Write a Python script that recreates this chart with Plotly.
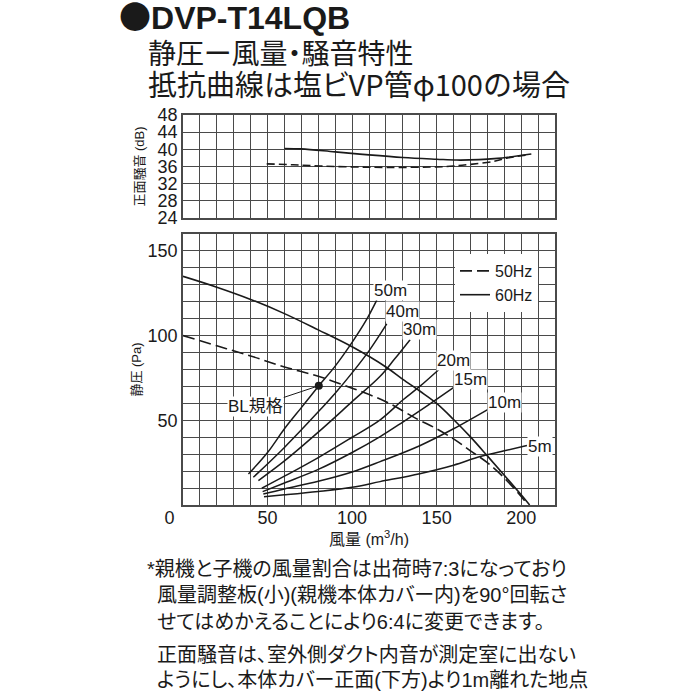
import plotly.graph_objects as go

# ---------------- data ----------------
# Noise (top chart): airflow m3/h vs dB
noise60_x = [60, 70, 90, 110, 130, 150, 162, 175, 186, 192, 206]
noise60_y = [40.2, 40.1, 39.4, 38.7, 38.1, 37.7, 37.5, 37.6, 37.9, 38.15, 38.9]
noise50_x = [49.5, 65, 81, 100, 120, 150, 160, 170, 184, 192, 204]
noise50_y = [36.6, 36.4, 36.1, 35.9, 35.8, 35.9, 36.1, 36.5, 37.2, 38.0, 38.7]

# Static pressure (bottom chart)
p60_x = [0, 20, 40, 60, 80, 100, 120, 130, 140, 150, 160, 170, 180, 190, 200, 205]
p60_y = [135, 128.6, 121.4, 113, 103.4, 93.4, 81.5, 74.2, 67.3, 60, 50.5, 40.2, 29, 17.6, 6, 0]
p50_x = [0, 20, 40, 60, 80, 100, 120, 138, 150, 160, 170, 180, 190, 200, 204]
p50_y = [100, 94, 88, 81.5, 76, 69, 61, 51, 45, 39, 32, 25, 16, 5, 0]

# Duct resistance curves (PVC VP pipe φ100)
res_names = ["50m", "40m", "30m", "20m", "15m", "10m", "5m"]
res_x = [
    [38.7, 50, 60, 70, 80, 90, 100, 108, 114.6],
    [41.6, 60, 80, 90, 100, 110, 120.5],
    [44.6, 60, 80, 100, 116.6, 125, 134.3],
    [46.6, 60, 80, 100, 116.6, 130, 140, 153],
    [47.1, 60, 80, 100, 116.6, 130, 145, 161],
    [47.5, 60, 80, 100, 116.6, 140, 160, 181.7],
    [47.9, 60, 80, 100, 116.6, 140, 160, 175.7, 190, 203.4],
]
res_y = [
    [18.3, 31, 45, 57.5, 70, 82, 96, 108.5, 121],
    [16.4, 34, 55, 66, 78, 91, 106.9],
    [14.4, 26, 43, 61, 76, 86, 97.6],
    [9.9, 17, 28, 40, 50.3, 62, 70, 81.5],
    [7.9, 13, 21, 31, 40.4, 49, 59, 70],
    [6.5, 9.5, 14, 19.5, 25.6, 35, 45, 57.2],
    [4.9, 6, 8, 10.5, 13.8, 18.5, 23.5, 28.6, 32, 35.1],
]
res_label_x = [122.5, 129.6, 139.6, 160, 169.8, 190, 211]
res_label_y = [126.6, 114.5, 103.8, 85.2, 74.3, 60.7, 34.6]

bl_x = [80.3]
bl_y = [70.4]

# ticks
grid_x = list(range(0, 230, 10))
x_tick_text = ["0\u2003\u2002" if v == 0 else (str(v) if v % 50 == 0 else "") for v in grid_x]
top_y_ticks = [24, 28, 32, 36, 40, 44, 48]
bot_y_grid = list(range(0, 170, 10))
bot_y_text = [str(v) if v in (50, 100, 150) else "" for v in bot_y_grid]

notes = [
    "*親機と子機の風量割合は出荷時7:3になっており",
    "風量調整板(小)(親機本体カバー内)を90°回転さ",
    "せてはめかえることにより6:4に変更できます。",
    "正面騒音は、室外側ダクト内音が測定室に出ない",
    "ようにし、本体カバー正面(下方)より1m離れた地点",
]

# ---------------- layout helpers ----------------
L, R, T, B = 183, 555, 115, 505
W, H = R - L, B - T


def px(x):
    return (x - L) / W


def py(y):
    return (B - y) / H


def palt(s):
    return "<span style=\"font-feature-settings:'palt'\">" + s + "</span>"


LAT = "Liberation Sans, Arial, Noto Sans CJK JP, sans-serif"
JP = "Liberation Sans, Noto Sans CJK JP, sans-serif"
CJK = "Noto Sans CJK JP, sans-serif"
INK = "#1a1a1a"
GRID = "#4a4a4a"

fig = go.Figure()

# top chart
fig.add_trace(go.Scatter(x=noise50_x, y=noise50_y, mode="lines", xaxis="x", yaxis="y",
                         line=dict(color=INK, width=1.6, dash="8px,4px", shape="spline"),
                         showlegend=False))
fig.add_trace(go.Scatter(x=noise60_x, y=noise60_y, mode="lines", xaxis="x", yaxis="y",
                         line=dict(color=INK, width=1.6, shape="spline"), showlegend=False))

# bottom chart
fig.add_trace(go.Scatter(x=p50_x, y=p50_y, mode="lines", xaxis="x2", yaxis="y2", name="50Hz",
                         line=dict(color=INK, width=1.6, dash="12px,5px", shape="spline")))
fig.add_trace(go.Scatter(x=p60_x, y=p60_y, mode="lines", xaxis="x2", yaxis="y2", name="60Hz",
                         line=dict(color=INK, width=1.6, shape="spline")))
for nm, xs, ys in zip(res_names, res_x, res_y):
    fig.add_trace(go.Scatter(x=xs, y=ys, mode="lines", xaxis="x2", yaxis="y2", name=nm,
                             line=dict(color=INK, width=1.5, shape="spline"), showlegend=False))
fig.add_trace(go.Scatter(x=bl_x, y=bl_y, mode="markers", xaxis="x2", yaxis="y2",
                         marker=dict(color=INK, size=8), showlegend=False))

annotations = []
for nm, lx, ly in zip(res_names, res_label_x, res_label_y):
    annotations.append(dict(x=lx, y=ly, xref="x2", yref="y2", text=nm, showarrow=False,
                            font=dict(family=LAT, size=17, color=INK), bgcolor="white",
                            borderpad=0))
annotations.append(dict(x=bl_x[0], y=bl_y[0], xref="x2", yref="y2", text="BL規格",
                        showarrow=True, arrowhead=0, arrowwidth=1, arrowcolor=INK,
                        ax=-63, ay=21, standoff=3, bgcolor="white", borderpad=0,
                        font=dict(family=JP, size=17, color=INK)))

# titles
annotations.append(dict(x=px(117), y=py(15), xref="paper", yref="paper", xanchor="left",
                        yanchor="middle", showarrow=False,
                        text="<span style=\"font-family:'Noto Sans CJK JP'\">●</span><b>DVP-T14LQB</b>",
                        font=dict(family=LAT, size=32, color=INK)))
annotations.append(dict(x=px(146), y=py(52), xref="paper", yref="paper", xanchor="left",
                        yanchor="middle", showarrow=False, text=palt("静圧ー風量・騒音特性"),
                        font=dict(family=CJK, size=28, color=INK)))
annotations.append(dict(x=px(146), y=py(83), xref="paper", yref="paper", xanchor="left",
                        yanchor="middle", showarrow=False,
                        text=palt("抵抗曲線は塩ビVP管") + "φ100の場合",
                        font=dict(family=CJK, size=29, color=INK)))

note_x = [145, 155, 155, 155, 155]
note_y = [569, 595, 622, 655, 680]
for t, nx, ny in zip(notes, note_x, note_y):
    annotations.append(dict(x=px(nx), y=py(ny), xref="paper", yref="paper", xanchor="left",
                            yanchor="middle", showarrow=False, text=palt(t),
                            font=dict(family=JP, size=20, color=INK)))

axis_common = dict(showgrid=True, gridcolor=GRID, gridwidth=1.3, showline=True, mirror=True,
                   linecolor=GRID, linewidth=1.5, zeroline=False, ticks="",
                   tickfont=dict(family=LAT, size=18, color=INK))

top_dom = [py(218), 1.0]
bot_dom = [0.0, py(234)]

fig.update_layout(
    width=700, height=700,
    margin=dict(l=L, r=700 - R, t=T, b=700 - B, autoexpand=False),
    paper_bgcolor="white", plot_bgcolor="white",
    xaxis=dict(axis_common, domain=[0, 1], range=[0, 220], anchor="y",
               tickvals=grid_x, ticktext=["" for _ in grid_x]),
    yaxis=dict(axis_common, domain=top_dom, range=[24, 48], anchor="x",
               tickvals=top_y_ticks,
               title=dict(text="正面騒音 (dB)", standoff=10,
                          font=dict(family=JP, size=13, color=INK))),
    xaxis2=dict(axis_common, domain=[0, 1], range=[0, 220], anchor="y2",
                tickvals=grid_x, ticktext=x_tick_text, ticklabelstandoff=-4,
                title=dict(text="風量 (m<sup>3</sup>/h)", standoff=0,
                           font=dict(family=JP, size=16, color=INK))),
    yaxis2=dict(axis_common, domain=bot_dom, range=[0, 160], anchor="x2",
                tickvals=bot_y_grid, ticktext=bot_y_text,
                title=dict(text="静圧 (Pa)", standoff=3,
                           font=dict(family=JP, size=13, color=INK))),
    legend=dict(x=px(538), y=py(254), xanchor="right", yanchor="top", bgcolor="white",
                borderwidth=0, font=dict(family=LAT, size=16, color=INK),
                itemwidth=30, tracegroupgap=0),
    annotations=annotations,
    showlegend=True,
)

fig.write_html("out.html", config={"displayModeBar": False},
               post_script="document.body.style.margin='0';document.body.style.overflow='hidden';")
